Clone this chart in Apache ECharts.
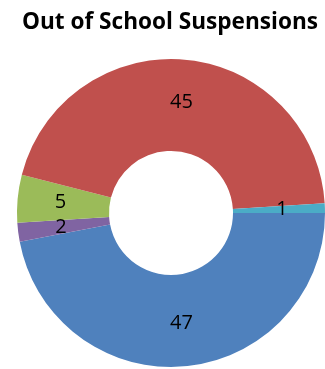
<!DOCTYPE html>
<html>
<head>
<meta charset="utf-8">
<script src="https://cdn.jsdelivr.net/npm/echarts@6/dist/echarts.min.js"></script>
<style>
  html, body { margin: 0; padding: 0; background: #fff; }
  #chart { width: 325px; height: 369px; }
</style>
</head>
<body>
<div id="chart"></div>
<script>
const title = 'Out of School Suspensions'
// clockwise order from 3 o'clock
const categories = ['Cat 1', 'Cat 4', 'Cat 3', 'Cat 2', 'Cat 5']
const values = [47, 2, 5, 45, 1]
const colors = ['#4F81BD', '#8064A2', '#9BBB59', '#C0504D', '#4BACC6']

const chart = echarts.init(document.getElementById('chart'))

const option = {
  animation: false,
  title: {
    text: title,
    left: 17,
    top: 6,
    textStyle: {
      fontFamily: 'Open Sans',
      fontWeight: 'bold',
      fontSize: 22.6,
      color: '#000',
    },
  },
  series: [
    {
      type: 'pie',
      center: [171, 213],
      radius: [62, 154],
      startAngle: 0,
      clockwise: true,
      avoidLabelOverlap: false,
      itemStyle: { borderWidth: 0 },
      label: {
        show: true,
        position: 'inside',
        formatter: '{c}',
        fontFamily: 'Open Sans',
        fontSize: 20,
        color: '#000',
      },
      labelLine: { show: false },
      data: categories.map((name, i) => ({
        name,
        value: values[i],
        itemStyle: { color: colors[i] },
      })),
    },
  ],
}
chart.setOption(option)
</script>
</body>
</html>
